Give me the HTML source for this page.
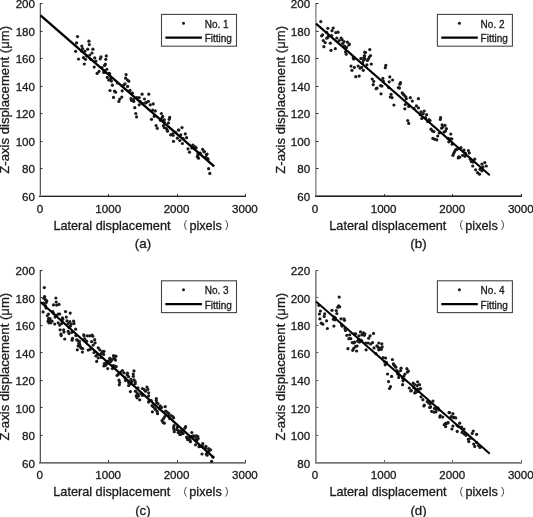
<!DOCTYPE html>
<html><head><meta charset="utf-8"><style>
html,body{margin:0;padding:0;background:#fff;width:533px;height:517px;overflow:hidden}
svg{display:block;will-change:transform;filter:blur(0.3px)}
text{stroke:#1a1a1a;stroke-width:0.3px}
</style></head><body>
<svg width="533" height="517" viewBox="0 0 533 517" font-family="&quot;Liberation Sans&quot;, sans-serif" fill="#1a1a1a"><g stroke-width="0">
<rect width="533" height="517" fill="#fff"/>
<g><rect x="39" y="3" width="1" height="194" fill="#d0d0d0"/><rect x="40" y="3" width="1" height="194" fill="#585858"/><rect x="39" y="195" width="207" height="1" fill="#b0b0b0"/><rect x="39" y="196" width="207" height="1" fill="#222"/><text x="39.90" y="212.60" text-anchor="middle" font-size="11.6">0</text><rect x="108" y="194" width="1" height="2" fill="#333"/><text x="108.23" y="212.60" text-anchor="middle" font-size="11.6">1000</text><rect x="177" y="194" width="1" height="2" fill="#333"/><text x="176.57" y="212.60" text-anchor="middle" font-size="11.6">2000</text><rect x="245" y="194" width="1" height="2" fill="#333"/><text x="244.90" y="212.60" text-anchor="middle" font-size="11.6">3000</text><text x="35.00" y="201.00" text-anchor="end" font-size="11.6">60</text><rect x="40" y="168" width="2.5" height="1" fill="#333"/><text x="35.00" y="173.47" text-anchor="end" font-size="11.6">80</text><rect x="40" y="141" width="2.5" height="1" fill="#333"/><text x="35.00" y="145.94" text-anchor="end" font-size="11.6">100</text><rect x="40" y="113" width="2.5" height="1" fill="#333"/><text x="35.00" y="118.41" text-anchor="end" font-size="11.6">120</text><rect x="40" y="86" width="2.5" height="1" fill="#333"/><text x="35.00" y="90.89" text-anchor="end" font-size="11.6">140</text><rect x="40" y="58" width="2.5" height="1" fill="#333"/><text x="35.00" y="63.36" text-anchor="end" font-size="11.6">160</text><rect x="40" y="31" width="2.5" height="1" fill="#333"/><text x="35.00" y="35.83" text-anchor="end" font-size="11.6">180</text><rect x="40" y="3" width="2.5" height="1" fill="#333"/><text x="35.00" y="8.30" text-anchor="end" font-size="11.6">200</text><text x="53.40" y="229.50" font-size="12.7">Lateral displacement</text><text x="189.40" y="229.50" font-size="12.7">pixels</text><path d="M186.50 220.20Q182.70 224.90 186.50 229.90" fill="none" stroke="#333" stroke-width="0.9"/><path d="M225.70 220.20Q229.50 224.90 225.70 229.90" fill="none" stroke="#333" stroke-width="0.9"/><text x="143.00" y="247.80" text-anchor="middle" font-size="13.3">(a)</text><text transform="translate(9.10 99.85) rotate(-90)" x="0" y="0" text-anchor="middle" font-size="13.15">Z-axis displacement (μm)</text><circle cx="77.5" cy="36.6" r="1.6"/><circle cx="76.6" cy="42.9" r="1.6"/><circle cx="88.9" cy="41.2" r="1.6"/><circle cx="89.3" cy="44.6" r="1.6"/><circle cx="81.8" cy="46.1" r="1.6"/><circle cx="75.6" cy="51.3" r="1.6"/><circle cx="82.6" cy="48.7" r="1.6"/><circle cx="81.4" cy="50.9" r="1.6"/><circle cx="85.0" cy="51.1" r="1.6"/><circle cx="87.7" cy="49.2" r="1.6"/><circle cx="92.9" cy="49.2" r="1.6"/><circle cx="92.0" cy="53.0" r="1.6"/><circle cx="89.8" cy="55.0" r="1.6"/><circle cx="86.6" cy="55.8" r="1.6"/><circle cx="83.5" cy="57.7" r="1.6"/><circle cx="85.5" cy="59.3" r="1.6"/><circle cx="78.5" cy="59.0" r="1.6"/><circle cx="90.8" cy="59.3" r="1.6"/><circle cx="94.7" cy="57.9" r="1.6"/><circle cx="95.9" cy="61.0" r="1.6"/><circle cx="84.3" cy="64.0" r="1.6"/><circle cx="94.2" cy="67.1" r="1.6"/><circle cx="101.0" cy="56.9" r="1.6"/><circle cx="100.2" cy="58.8" r="1.6"/><circle cx="106.3" cy="55.9" r="1.6"/><circle cx="105.8" cy="59.3" r="1.6"/><circle cx="105.3" cy="64.2" r="1.6"/><circle cx="104.6" cy="65.4" r="1.6"/><circle cx="101.9" cy="67.6" r="1.6"/><circle cx="106.8" cy="69.3" r="1.6"/><circle cx="103.8" cy="70.5" r="1.6"/><circle cx="99.0" cy="71.4" r="1.6"/><circle cx="97.1" cy="73.4" r="1.6"/><circle cx="109.2" cy="73.4" r="1.6"/><circle cx="104.3" cy="72.4" r="1.6"/><circle cx="126.1" cy="74.6" r="1.6"/><circle cx="125.6" cy="78.2" r="1.6"/><circle cx="127.5" cy="80.0" r="1.6"/><circle cx="128.8" cy="81.2" r="1.6"/><circle cx="107.3" cy="77.4" r="1.6"/><circle cx="108.7" cy="80.1" r="1.6"/><circle cx="110.6" cy="78.7" r="1.6"/><circle cx="111.4" cy="81.1" r="1.6"/><circle cx="109.7" cy="73.9" r="1.6"/><circle cx="112.4" cy="85.2" r="1.6"/><circle cx="110.0" cy="90.5" r="1.6"/><circle cx="114.5" cy="91.0" r="1.6"/><circle cx="115.5" cy="92.2" r="1.6"/><circle cx="113.5" cy="97.4" r="1.6"/><circle cx="121.8" cy="97.1" r="1.6"/><circle cx="119.8" cy="99.0" r="1.6"/><circle cx="118.9" cy="101.4" r="1.6"/><circle cx="122.2" cy="90.8" r="1.6"/><circle cx="123.7" cy="85.0" r="1.6"/><circle cx="125.0" cy="83.8" r="1.6"/><circle cx="127.6" cy="86.4" r="1.6"/><circle cx="117.4" cy="83.0" r="1.6"/><circle cx="130.0" cy="90.3" r="1.6"/><circle cx="132.4" cy="93.2" r="1.6"/><circle cx="131.0" cy="98.5" r="1.6"/><circle cx="133.4" cy="99.5" r="1.6"/><circle cx="133.8" cy="101.4" r="1.6"/><circle cx="136.8" cy="97.6" r="1.6"/><circle cx="139.2" cy="97.6" r="1.6"/><circle cx="142.1" cy="94.2" r="1.6"/><circle cx="144.5" cy="99.0" r="1.6"/><circle cx="148.8" cy="94.2" r="1.6"/><circle cx="140.1" cy="101.4" r="1.6"/><circle cx="142.6" cy="103.4" r="1.6"/><circle cx="146.4" cy="102.4" r="1.6"/><circle cx="148.4" cy="101.4" r="1.6"/><circle cx="103.9" cy="72.4" r="1.6"/><circle cx="131.5" cy="100.5" r="1.6"/><circle cx="139.2" cy="104.8" r="1.6"/><circle cx="134.8" cy="107.7" r="1.6"/><circle cx="135.8" cy="113.5" r="1.6"/><circle cx="136.6" cy="116.9" r="1.6"/><circle cx="145.5" cy="102.9" r="1.6"/><circle cx="150.3" cy="104.8" r="1.6"/><circle cx="153.2" cy="103.9" r="1.6"/><circle cx="152.7" cy="110.1" r="1.6"/><circle cx="155.3" cy="110.9" r="1.6"/><circle cx="154.2" cy="116.4" r="1.6"/><circle cx="151.5" cy="119.3" r="1.6"/><circle cx="161.4" cy="113.5" r="1.6"/><circle cx="162.7" cy="116.4" r="1.6"/><circle cx="160.5" cy="120.3" r="1.6"/><circle cx="164.3" cy="119.8" r="1.6"/><circle cx="169.7" cy="117.4" r="1.6"/><circle cx="169.2" cy="119.3" r="1.6"/><circle cx="168.5" cy="122.9" r="1.6"/><circle cx="156.1" cy="125.6" r="1.6"/><circle cx="157.3" cy="128.3" r="1.6"/><circle cx="163.4" cy="125.6" r="1.6"/><circle cx="164.3" cy="127.6" r="1.6"/><circle cx="166.8" cy="129.0" r="1.6"/><circle cx="167.7" cy="130.9" r="1.6"/><circle cx="178.4" cy="130.0" r="1.6"/><circle cx="175.5" cy="132.4" r="1.6"/><circle cx="172.6" cy="133.8" r="1.6"/><circle cx="161.9" cy="117.9" r="1.6"/><circle cx="161.0" cy="120.3" r="1.6"/><circle cx="164.4" cy="122.7" r="1.6"/><circle cx="166.3" cy="128.5" r="1.6"/><circle cx="167.3" cy="131.0" r="1.6"/><circle cx="182.0" cy="127.6" r="1.6"/><circle cx="178.9" cy="130.0" r="1.6"/><circle cx="170.6" cy="134.8" r="1.6"/><circle cx="173.1" cy="135.3" r="1.6"/><circle cx="180.8" cy="134.8" r="1.6"/><circle cx="185.3" cy="133.9" r="1.6"/><circle cx="186.6" cy="137.7" r="1.6"/><circle cx="177.4" cy="138.2" r="1.6"/><circle cx="179.8" cy="140.6" r="1.6"/><circle cx="183.2" cy="138.7" r="1.6"/><circle cx="182.4" cy="143.5" r="1.6"/><circle cx="173.5" cy="141.3" r="1.6"/><circle cx="192.9" cy="145.0" r="1.6"/><circle cx="195.3" cy="147.4" r="1.6"/><circle cx="191.9" cy="147.9" r="1.6"/><circle cx="188.0" cy="148.8" r="1.6"/><circle cx="189.5" cy="152.2" r="1.6"/><circle cx="202.6" cy="149.3" r="1.6"/><circle cx="204.0" cy="151.8" r="1.6"/><circle cx="198.2" cy="153.2" r="1.6"/><circle cx="200.6" cy="154.2" r="1.6"/><circle cx="206.4" cy="154.7" r="1.6"/><circle cx="197.7" cy="157.1" r="1.6"/><circle cx="205.5" cy="157.6" r="1.6"/><circle cx="207.9" cy="159.5" r="1.6"/><circle cx="194.7" cy="146.6" r="1.6"/><circle cx="196.2" cy="147.8" r="1.6"/><circle cx="204.3" cy="151.6" r="1.6"/><circle cx="207.1" cy="154.0" r="1.6"/><circle cx="200.1" cy="153.2" r="1.6"/><circle cx="198.2" cy="154.3" r="1.6"/><circle cx="197.4" cy="156.3" r="1.6"/><circle cx="198.5" cy="158.2" r="1.6"/><circle cx="205.9" cy="157.4" r="1.6"/><circle cx="207.8" cy="158.6" r="1.6"/><circle cx="208.6" cy="168.7" r="1.6"/><circle cx="209.8" cy="173.4" r="1.6"/><path d="M40.50 15.40L214.20 166.30" stroke="#000" stroke-width="2.4"/><rect x="161.50" y="14.40" width="75" height="31.8" fill="#fff" stroke="#444" stroke-width="1.1"/><circle cx="183.50" cy="23.30" r="1.5"/><path d="M165.40 37.70H201.90" stroke="#000" stroke-width="2.2"/><text x="204.70" y="27.60" font-size="10">No. 1</text><text x="204.70" y="42.30" font-size="10">Fitting</text></g>
<g><rect x="315" y="3" width="1" height="194" fill="#999"/><rect x="316" y="3" width="1" height="194" fill="#bbb"/><rect x="315" y="195" width="207" height="1" fill="#777"/><rect x="315" y="196" width="207" height="1" fill="#222"/><text x="315.00" y="212.60" text-anchor="middle" font-size="11.6">0</text><rect x="384" y="194" width="1" height="2" fill="#333"/><text x="383.60" y="212.60" text-anchor="middle" font-size="11.6">1000</text><rect x="452" y="194" width="1" height="2" fill="#333"/><text x="452.20" y="212.60" text-anchor="middle" font-size="11.6">2000</text><rect x="521" y="194" width="1" height="2" fill="#333"/><text x="520.80" y="212.60" text-anchor="middle" font-size="11.6">3000</text><text x="310.10" y="201.00" text-anchor="end" font-size="11.6">60</text><rect x="316" y="168" width="2.5" height="1" fill="#333"/><text x="310.10" y="173.47" text-anchor="end" font-size="11.6">80</text><rect x="316" y="141" width="2.5" height="1" fill="#333"/><text x="310.10" y="145.94" text-anchor="end" font-size="11.6">100</text><rect x="316" y="113" width="2.5" height="1" fill="#333"/><text x="310.10" y="118.41" text-anchor="end" font-size="11.6">120</text><rect x="316" y="86" width="2.5" height="1" fill="#333"/><text x="310.10" y="90.89" text-anchor="end" font-size="11.6">140</text><rect x="316" y="58" width="2.5" height="1" fill="#333"/><text x="310.10" y="63.36" text-anchor="end" font-size="11.6">160</text><rect x="316" y="31" width="2.5" height="1" fill="#333"/><text x="310.10" y="35.83" text-anchor="end" font-size="11.6">180</text><rect x="316" y="3" width="2.5" height="1" fill="#333"/><text x="310.10" y="8.30" text-anchor="end" font-size="11.6">200</text><text x="329.30" y="229.50" font-size="12.7">Lateral displacement</text><text x="465.30" y="229.50" font-size="12.7">pixels</text><path d="M462.40 220.20Q458.60 224.90 462.40 229.90" fill="none" stroke="#333" stroke-width="0.9"/><path d="M501.60 220.20Q505.40 224.90 501.60 229.90" fill="none" stroke="#333" stroke-width="0.9"/><text x="418.50" y="247.80" text-anchor="middle" font-size="13.3">(b)</text><text transform="translate(284.70 99.85) rotate(-90)" x="0" y="0" text-anchor="middle" font-size="13.15">Z-axis displacement (μm)</text><circle cx="320.8" cy="21.6" r="1.6"/><circle cx="327.8" cy="28.3" r="1.6"/><circle cx="333.2" cy="28.1" r="1.6"/><circle cx="332.0" cy="30.7" r="1.6"/><circle cx="335.8" cy="32.6" r="1.6"/><circle cx="338.0" cy="32.2" r="1.6"/><circle cx="326.6" cy="32.4" r="1.6"/><circle cx="322.6" cy="34.8" r="1.6"/><circle cx="321.6" cy="35.8" r="1.6"/><circle cx="328.6" cy="35.8" r="1.6"/><circle cx="331.7" cy="35.5" r="1.6"/><circle cx="326.8" cy="38.2" r="1.6"/><circle cx="327.8" cy="37.4" r="1.6"/><circle cx="336.8" cy="38.0" r="1.6"/><circle cx="341.1" cy="38.0" r="1.6"/><circle cx="342.1" cy="39.7" r="1.6"/><circle cx="339.2" cy="40.6" r="1.6"/><circle cx="323.3" cy="40.6" r="1.6"/><circle cx="325.2" cy="42.6" r="1.6"/><circle cx="330.3" cy="43.2" r="1.6"/><circle cx="323.9" cy="46.7" r="1.6"/><circle cx="344.0" cy="41.6" r="1.6"/><circle cx="347.4" cy="42.1" r="1.6"/><circle cx="349.4" cy="44.0" r="1.6"/><circle cx="348.9" cy="45.0" r="1.6"/><circle cx="344.5" cy="46.0" r="1.6"/><circle cx="346.5" cy="47.4" r="1.6"/><circle cx="342.6" cy="43.5" r="1.6"/><circle cx="335.3" cy="48.7" r="1.6"/><circle cx="331.0" cy="50.3" r="1.6"/><circle cx="345.5" cy="51.8" r="1.6"/><circle cx="346.2" cy="54.2" r="1.6"/><circle cx="353.2" cy="57.6" r="1.6"/><circle cx="353.7" cy="58.7" r="1.6"/><circle cx="361.0" cy="58.5" r="1.6"/><circle cx="364.4" cy="56.1" r="1.6"/><circle cx="364.8" cy="52.2" r="1.6"/><circle cx="363.4" cy="60.5" r="1.6"/><circle cx="369.8" cy="49.6" r="1.6"/><circle cx="365.5" cy="52.5" r="1.6"/><circle cx="364.5" cy="55.6" r="1.6"/><circle cx="364.0" cy="57.6" r="1.6"/><circle cx="365.0" cy="59.0" r="1.6"/><circle cx="370.5" cy="55.6" r="1.6"/><circle cx="369.3" cy="57.1" r="1.6"/><circle cx="368.4" cy="59.0" r="1.6"/><circle cx="367.4" cy="60.5" r="1.6"/><circle cx="361.1" cy="58.5" r="1.6"/><circle cx="353.9" cy="59.0" r="1.6"/><circle cx="362.6" cy="62.9" r="1.6"/><circle cx="366.9" cy="64.8" r="1.6"/><circle cx="371.3" cy="64.1" r="1.6"/><circle cx="351.0" cy="66.1" r="1.6"/><circle cx="354.4" cy="67.4" r="1.6"/><circle cx="352.0" cy="70.3" r="1.6"/><circle cx="358.2" cy="66.1" r="1.6"/><circle cx="360.2" cy="68.2" r="1.6"/><circle cx="361.6" cy="67.4" r="1.6"/><circle cx="363.3" cy="70.3" r="1.6"/><circle cx="355.8" cy="76.7" r="1.6"/><circle cx="359.2" cy="76.1" r="1.6"/><circle cx="385.8" cy="65.3" r="1.6"/><circle cx="385.3" cy="67.7" r="1.6"/><circle cx="372.2" cy="79.0" r="1.6"/><circle cx="373.7" cy="81.3" r="1.6"/><circle cx="373.2" cy="84.7" r="1.6"/><circle cx="382.9" cy="78.4" r="1.6"/><circle cx="383.4" cy="81.3" r="1.6"/><circle cx="380.5" cy="85.6" r="1.6"/><circle cx="381.9" cy="86.1" r="1.6"/><circle cx="376.1" cy="88.7" r="1.6"/><circle cx="377.1" cy="88.0" r="1.6"/><circle cx="389.8" cy="76.9" r="1.6"/><circle cx="392.6" cy="80.0" r="1.6"/><circle cx="389.2" cy="81.8" r="1.6"/><circle cx="388.7" cy="87.6" r="1.6"/><circle cx="398.4" cy="87.6" r="1.6"/><circle cx="399.8" cy="84.2" r="1.6"/><circle cx="381.0" cy="93.8" r="1.6"/><circle cx="391.1" cy="94.3" r="1.6"/><circle cx="400.5" cy="82.7" r="1.6"/><circle cx="399.5" cy="88.1" r="1.6"/><circle cx="390.3" cy="97.0" r="1.6"/><circle cx="392.0" cy="97.7" r="1.6"/><circle cx="402.2" cy="92.9" r="1.6"/><circle cx="403.4" cy="94.3" r="1.6"/><circle cx="404.3" cy="95.3" r="1.6"/><circle cx="405.8" cy="96.8" r="1.6"/><circle cx="406.3" cy="98.7" r="1.6"/><circle cx="410.3" cy="97.7" r="1.6"/><circle cx="412.3" cy="101.1" r="1.6"/><circle cx="418.4" cy="98.7" r="1.6"/><circle cx="393.9" cy="105.0" r="1.6"/><circle cx="405.3" cy="104.5" r="1.6"/><circle cx="408.7" cy="106.4" r="1.6"/><circle cx="404.8" cy="108.8" r="1.6"/><circle cx="416.4" cy="105.9" r="1.6"/><circle cx="418.4" cy="107.9" r="1.6"/><circle cx="414.0" cy="108.4" r="1.6"/><circle cx="421.0" cy="111.8" r="1.6"/><circle cx="424.2" cy="111.0" r="1.6"/><circle cx="423.2" cy="113.7" r="1.6"/><circle cx="426.6" cy="114.7" r="1.6"/><circle cx="420.3" cy="114.7" r="1.6"/><circle cx="421.8" cy="118.5" r="1.6"/><circle cx="425.6" cy="117.6" r="1.6"/><circle cx="429.0" cy="119.5" r="1.6"/><circle cx="430.0" cy="120.5" r="1.6"/><circle cx="427.6" cy="121.4" r="1.6"/><circle cx="407.7" cy="120.5" r="1.6"/><circle cx="408.7" cy="123.4" r="1.6"/><circle cx="440.6" cy="117.6" r="1.6"/><circle cx="440.3" cy="119.5" r="1.6"/><circle cx="442.1" cy="124.8" r="1.6"/><circle cx="445.0" cy="125.3" r="1.6"/><circle cx="441.6" cy="128.2" r="1.6"/><circle cx="443.0" cy="126.8" r="1.6"/><circle cx="446.4" cy="128.7" r="1.6"/><circle cx="445.5" cy="131.1" r="1.6"/><circle cx="444.0" cy="132.1" r="1.6"/><circle cx="431.0" cy="129.2" r="1.6"/><circle cx="432.4" cy="130.9" r="1.6"/><circle cx="433.9" cy="131.6" r="1.6"/><circle cx="439.2" cy="133.0" r="1.6"/><circle cx="437.7" cy="136.0" r="1.6"/><circle cx="432.9" cy="138.4" r="1.6"/><circle cx="434.8" cy="139.3" r="1.6"/><circle cx="436.8" cy="139.8" r="1.6"/><circle cx="450.8" cy="134.0" r="1.6"/><circle cx="447.9" cy="138.4" r="1.6"/><circle cx="449.8" cy="138.8" r="1.6"/><circle cx="451.8" cy="138.8" r="1.6"/><circle cx="448.8" cy="141.8" r="1.6"/><circle cx="452.2" cy="144.2" r="1.6"/><circle cx="456.6" cy="149.5" r="1.6"/><circle cx="454.7" cy="151.4" r="1.6"/><circle cx="453.7" cy="153.4" r="1.6"/><circle cx="460.9" cy="147.6" r="1.6"/><circle cx="463.4" cy="150.9" r="1.6"/><circle cx="457.3" cy="149.0" r="1.6"/><circle cx="455.8" cy="149.5" r="1.6"/><circle cx="452.9" cy="155.3" r="1.6"/><circle cx="464.0" cy="150.0" r="1.6"/><circle cx="468.4" cy="150.5" r="1.6"/><circle cx="469.3" cy="152.9" r="1.6"/><circle cx="465.5" cy="153.4" r="1.6"/><circle cx="462.6" cy="155.3" r="1.6"/><circle cx="465.0" cy="156.3" r="1.6"/><circle cx="458.7" cy="156.8" r="1.6"/><circle cx="458.2" cy="158.0" r="1.6"/><circle cx="459.7" cy="157.2" r="1.6"/><circle cx="470.3" cy="159.2" r="1.6"/><circle cx="474.7" cy="159.2" r="1.6"/><circle cx="471.3" cy="161.6" r="1.6"/><circle cx="473.2" cy="162.1" r="1.6"/><circle cx="472.7" cy="166.0" r="1.6"/><circle cx="481.9" cy="164.0" r="1.6"/><circle cx="484.8" cy="162.6" r="1.6"/><circle cx="486.3" cy="166.0" r="1.6"/><circle cx="482.9" cy="166.9" r="1.6"/><circle cx="475.6" cy="169.8" r="1.6"/><circle cx="480.0" cy="169.3" r="1.6"/><circle cx="481.9" cy="170.8" r="1.6"/><circle cx="477.6" cy="172.7" r="1.6"/><circle cx="479.5" cy="174.2" r="1.6"/><path d="M316.00 23.60L489.80 175.20" stroke="#000" stroke-width="2.1"/><rect x="437.40" y="14.40" width="75" height="31.8" fill="#fff" stroke="#444" stroke-width="1.1"/><circle cx="459.40" cy="23.30" r="1.5"/><path d="M441.30 37.70H477.80" stroke="#000" stroke-width="2.2"/><text x="480.60" y="27.60" font-size="10">No. 2</text><text x="480.60" y="42.30" font-size="10">Fitting</text></g>
<g><rect x="39" y="270" width="1" height="193" fill="#ccc"/><rect x="40" y="270" width="1" height="193" fill="#555"/><rect x="39" y="462" width="207" height="1" fill="#6a6a6a"/><rect x="39" y="463" width="207" height="1" fill="#999"/><text x="39.80" y="479.30" text-anchor="middle" font-size="11.6">0</text><rect x="108" y="460" width="1" height="2" fill="#333"/><text x="108.17" y="479.30" text-anchor="middle" font-size="11.6">1000</text><rect x="177" y="460" width="1" height="2" fill="#333"/><text x="176.53" y="479.30" text-anchor="middle" font-size="11.6">2000</text><rect x="245" y="460" width="1" height="2" fill="#333"/><text x="244.90" y="479.30" text-anchor="middle" font-size="11.6">3000</text><text x="34.90" y="467.70" text-anchor="end" font-size="11.6">60</text><rect x="40" y="435" width="2.5" height="1" fill="#333"/><text x="34.90" y="440.20" text-anchor="end" font-size="11.6">80</text><rect x="40" y="407" width="2.5" height="1" fill="#333"/><text x="34.90" y="412.70" text-anchor="end" font-size="11.6">100</text><rect x="40" y="380" width="2.5" height="1" fill="#333"/><text x="34.90" y="385.20" text-anchor="end" font-size="11.6">120</text><rect x="40" y="352" width="2.5" height="1" fill="#333"/><text x="34.90" y="357.70" text-anchor="end" font-size="11.6">140</text><rect x="40" y="325" width="2.5" height="1" fill="#333"/><text x="34.90" y="330.20" text-anchor="end" font-size="11.6">160</text><rect x="40" y="297" width="2.5" height="1" fill="#333"/><text x="34.90" y="302.70" text-anchor="end" font-size="11.6">180</text><rect x="40" y="270" width="2.5" height="1" fill="#333"/><text x="34.90" y="275.20" text-anchor="end" font-size="11.6">200</text><text x="53.30" y="496.20" font-size="12.7">Lateral displacement</text><text x="189.30" y="496.20" font-size="12.7">pixels</text><path d="M186.40 486.90Q182.60 491.60 186.40 496.60" fill="none" stroke="#333" stroke-width="0.9"/><path d="M225.60 486.90Q229.40 491.60 225.60 496.60" fill="none" stroke="#333" stroke-width="0.9"/><text x="142.95" y="514.50" text-anchor="middle" font-size="13.3">(c)</text><text transform="translate(9.00 366.65) rotate(-90)" x="0" y="0" text-anchor="middle" font-size="13.15">Z-axis displacement (μm)</text><circle cx="44.3" cy="287.6" r="1.6"/><circle cx="44.6" cy="296.6" r="1.6"/><circle cx="43.9" cy="298.2" r="1.6"/><circle cx="45.4" cy="299.7" r="1.6"/><circle cx="46.8" cy="300.9" r="1.6"/><circle cx="46.2" cy="302.4" r="1.6"/><circle cx="43.5" cy="303.2" r="1.6"/><circle cx="45.4" cy="305.5" r="1.6"/><circle cx="46.0" cy="307.9" r="1.6"/><circle cx="55.9" cy="298.0" r="1.6"/><circle cx="56.2" cy="302.0" r="1.6"/><circle cx="53.5" cy="304.9" r="1.6"/><circle cx="56.6" cy="305.1" r="1.6"/><circle cx="59.0" cy="304.4" r="1.6"/><circle cx="43.1" cy="311.9" r="1.6"/><circle cx="48.5" cy="314.0" r="1.6"/><circle cx="47.4" cy="315.6" r="1.6"/><circle cx="52.8" cy="311.7" r="1.6"/><circle cx="53.5" cy="313.3" r="1.6"/><circle cx="48.5" cy="318.7" r="1.6"/><circle cx="50.1" cy="318.7" r="1.6"/><circle cx="58.2" cy="314.0" r="1.6"/><circle cx="59.7" cy="314.0" r="1.6"/><circle cx="56.6" cy="315.6" r="1.6"/><circle cx="55.1" cy="317.1" r="1.6"/><circle cx="65.5" cy="311.6" r="1.6"/><circle cx="70.2" cy="313.1" r="1.6"/><circle cx="66.3" cy="317.1" r="1.6"/><circle cx="62.4" cy="317.9" r="1.6"/><circle cx="48.1" cy="321.2" r="1.6"/><circle cx="50.0" cy="321.2" r="1.6"/><circle cx="52.0" cy="321.2" r="1.6"/><circle cx="48.9" cy="322.8" r="1.6"/><circle cx="50.8" cy="322.8" r="1.6"/><circle cx="54.7" cy="324.0" r="1.6"/><circle cx="58.2" cy="322.8" r="1.6"/><circle cx="59.7" cy="325.1" r="1.6"/><circle cx="61.6" cy="323.6" r="1.6"/><circle cx="62.8" cy="319.3" r="1.6"/><circle cx="67.0" cy="320.9" r="1.6"/><circle cx="69.8" cy="321.6" r="1.6"/><circle cx="73.6" cy="321.2" r="1.6"/><circle cx="74.0" cy="323.6" r="1.6"/><circle cx="68.2" cy="323.6" r="1.6"/><circle cx="71.3" cy="324.0" r="1.6"/><circle cx="70.5" cy="325.9" r="1.6"/><circle cx="69.0" cy="327.4" r="1.6"/><circle cx="60.1" cy="329.8" r="1.6"/><circle cx="63.6" cy="329.8" r="1.6"/><circle cx="64.0" cy="332.1" r="1.6"/><circle cx="60.9" cy="334.0" r="1.6"/><circle cx="61.2" cy="335.6" r="1.6"/><circle cx="68.2" cy="331.3" r="1.6"/><circle cx="69.0" cy="333.6" r="1.6"/><circle cx="71.7" cy="332.5" r="1.6"/><circle cx="75.6" cy="329.2" r="1.6"/><circle cx="75.9" cy="335.6" r="1.6"/><circle cx="72.5" cy="338.3" r="1.6"/><circle cx="72.1" cy="340.2" r="1.6"/><circle cx="64.7" cy="339.0" r="1.6"/><circle cx="76.7" cy="339.8" r="1.6"/><circle cx="79.4" cy="341.4" r="1.6"/><circle cx="79.0" cy="343.7" r="1.6"/><circle cx="83.8" cy="334.8" r="1.6"/><circle cx="84.1" cy="336.0" r="1.6"/><circle cx="87.4" cy="335.8" r="1.6"/><circle cx="89.7" cy="335.8" r="1.6"/><circle cx="92.0" cy="335.1" r="1.6"/><circle cx="92.8" cy="336.2" r="1.6"/><circle cx="77.3" cy="340.1" r="1.6"/><circle cx="84.7" cy="338.9" r="1.6"/><circle cx="86.6" cy="341.2" r="1.6"/><circle cx="94.7" cy="339.7" r="1.6"/><circle cx="91.6" cy="341.6" r="1.6"/><circle cx="95.1" cy="342.8" r="1.6"/><circle cx="93.2" cy="345.1" r="1.6"/><circle cx="78.9" cy="342.8" r="1.6"/><circle cx="79.6" cy="344.3" r="1.6"/><circle cx="78.1" cy="345.9" r="1.6"/><circle cx="80.4" cy="346.7" r="1.6"/><circle cx="81.2" cy="348.2" r="1.6"/><circle cx="82.7" cy="348.6" r="1.6"/><circle cx="77.3" cy="349.8" r="1.6"/><circle cx="82.4" cy="352.1" r="1.6"/><circle cx="88.2" cy="350.1" r="1.6"/><circle cx="90.1" cy="349.4" r="1.6"/><circle cx="94.0" cy="352.5" r="1.6"/><circle cx="98.2" cy="347.8" r="1.6"/><circle cx="99.8" cy="349.8" r="1.6"/><circle cx="104.0" cy="351.3" r="1.6"/><circle cx="102.1" cy="353.2" r="1.6"/><circle cx="103.6" cy="354.4" r="1.6"/><circle cx="97.1" cy="354.8" r="1.6"/><circle cx="95.9" cy="356.0" r="1.6"/><circle cx="98.2" cy="357.9" r="1.6"/><circle cx="96.7" cy="361.4" r="1.6"/><circle cx="101.3" cy="357.5" r="1.6"/><circle cx="109.8" cy="358.3" r="1.6"/><circle cx="111.4" cy="360.2" r="1.6"/><circle cx="113.7" cy="355.9" r="1.6"/><circle cx="112.9" cy="359.0" r="1.6"/><circle cx="107.5" cy="361.4" r="1.6"/><circle cx="106.0" cy="362.9" r="1.6"/><circle cx="104.4" cy="363.7" r="1.6"/><circle cx="102.3" cy="351.5" r="1.6"/><circle cx="101.2" cy="353.5" r="1.6"/><circle cx="113.5" cy="355.8" r="1.6"/><circle cx="115.9" cy="356.2" r="1.6"/><circle cx="114.7" cy="358.1" r="1.6"/><circle cx="115.5" cy="360.1" r="1.6"/><circle cx="110.1" cy="358.9" r="1.6"/><circle cx="108.5" cy="361.2" r="1.6"/><circle cx="110.8" cy="361.6" r="1.6"/><circle cx="105.0" cy="363.5" r="1.6"/><circle cx="107.0" cy="363.9" r="1.6"/><circle cx="103.9" cy="365.9" r="1.6"/><circle cx="105.4" cy="365.5" r="1.6"/><circle cx="107.7" cy="368.6" r="1.6"/><circle cx="113.2" cy="365.5" r="1.6"/><circle cx="114.7" cy="366.2" r="1.6"/><circle cx="116.2" cy="366.6" r="1.6"/><circle cx="112.4" cy="368.6" r="1.6"/><circle cx="122.4" cy="370.5" r="1.6"/><circle cx="120.9" cy="372.0" r="1.6"/><circle cx="124.0" cy="372.8" r="1.6"/><circle cx="117.0" cy="375.5" r="1.6"/><circle cx="118.2" cy="374.4" r="1.6"/><circle cx="127.5" cy="373.2" r="1.6"/><circle cx="127.1" cy="374.8" r="1.6"/><circle cx="128.6" cy="376.7" r="1.6"/><circle cx="125.1" cy="377.9" r="1.6"/><circle cx="125.5" cy="380.6" r="1.6"/><circle cx="119.0" cy="380.2" r="1.6"/><circle cx="119.7" cy="382.5" r="1.6"/><circle cx="119.3" cy="384.8" r="1.6"/><circle cx="134.0" cy="370.9" r="1.6"/><circle cx="133.3" cy="374.0" r="1.6"/><circle cx="133.3" cy="376.3" r="1.6"/><circle cx="130.9" cy="379.4" r="1.6"/><circle cx="131.7" cy="381.7" r="1.6"/><circle cx="134.0" cy="379.8" r="1.6"/><circle cx="135.2" cy="381.7" r="1.6"/><circle cx="128.6" cy="382.5" r="1.6"/><circle cx="130.2" cy="384.0" r="1.6"/><circle cx="128.6" cy="385.6" r="1.6"/><circle cx="135.2" cy="383.7" r="1.6"/><circle cx="137.9" cy="387.9" r="1.6"/><circle cx="130.4" cy="391.6" r="1.6"/><circle cx="142.4" cy="388.5" r="1.6"/><circle cx="144.3" cy="389.7" r="1.6"/><circle cx="147.0" cy="387.0" r="1.6"/><circle cx="147.8" cy="389.3" r="1.6"/><circle cx="148.6" cy="392.8" r="1.6"/><circle cx="145.5" cy="391.2" r="1.6"/><circle cx="135.4" cy="391.2" r="1.6"/><circle cx="137.0" cy="392.8" r="1.6"/><circle cx="137.7" cy="394.3" r="1.6"/><circle cx="136.2" cy="395.9" r="1.6"/><circle cx="138.5" cy="395.9" r="1.6"/><circle cx="137.0" cy="397.8" r="1.6"/><circle cx="139.7" cy="399.8" r="1.6"/><circle cx="140.8" cy="393.6" r="1.6"/><circle cx="142.4" cy="395.5" r="1.6"/><circle cx="148.6" cy="395.9" r="1.6"/><circle cx="149.3" cy="400.5" r="1.6"/><circle cx="148.6" cy="402.1" r="1.6"/><circle cx="151.3" cy="400.5" r="1.6"/><circle cx="156.3" cy="398.6" r="1.6"/><circle cx="156.3" cy="400.5" r="1.6"/><circle cx="156.7" cy="402.5" r="1.6"/><circle cx="157.9" cy="403.6" r="1.6"/><circle cx="152.0" cy="405.6" r="1.6"/><circle cx="153.2" cy="406.7" r="1.6"/><circle cx="154.8" cy="408.3" r="1.6"/><circle cx="155.5" cy="409.4" r="1.6"/><circle cx="160.2" cy="405.9" r="1.6"/><circle cx="161.7" cy="407.5" r="1.6"/><circle cx="165.2" cy="406.6" r="1.6"/><circle cx="159.4" cy="408.7" r="1.6"/><circle cx="152.4" cy="411.8" r="1.6"/><circle cx="157.1" cy="411.4" r="1.6"/><circle cx="157.5" cy="413.7" r="1.6"/><circle cx="165.6" cy="411.0" r="1.6"/><circle cx="167.1" cy="412.1" r="1.6"/><circle cx="168.7" cy="413.3" r="1.6"/><circle cx="164.7" cy="416.6" r="1.6"/><circle cx="163.5" cy="418.6" r="1.6"/><circle cx="162.0" cy="420.5" r="1.6"/><circle cx="163.1" cy="422.4" r="1.6"/><circle cx="164.3" cy="423.2" r="1.6"/><circle cx="168.9" cy="415.5" r="1.6"/><circle cx="171.2" cy="415.5" r="1.6"/><circle cx="172.8" cy="416.6" r="1.6"/><circle cx="173.6" cy="417.8" r="1.6"/><circle cx="169.7" cy="418.6" r="1.6"/><circle cx="174.0" cy="425.5" r="1.6"/><circle cx="173.6" cy="427.5" r="1.6"/><circle cx="174.0" cy="429.4" r="1.6"/><circle cx="174.3" cy="431.7" r="1.6"/><circle cx="177.4" cy="427.1" r="1.6"/><circle cx="176.7" cy="429.4" r="1.6"/><circle cx="178.2" cy="430.6" r="1.6"/><circle cx="179.8" cy="431.7" r="1.6"/><circle cx="178.2" cy="432.5" r="1.6"/><circle cx="180.5" cy="433.3" r="1.6"/><circle cx="182.1" cy="432.5" r="1.6"/><circle cx="179.8" cy="434.4" r="1.6"/><circle cx="185.6" cy="426.7" r="1.6"/><circle cx="184.8" cy="428.2" r="1.6"/><circle cx="191.8" cy="432.5" r="1.6"/><circle cx="186.7" cy="437.1" r="1.6"/><circle cx="189.0" cy="437.9" r="1.6"/><circle cx="191.4" cy="436.4" r="1.6"/><circle cx="193.7" cy="436.4" r="1.6"/><circle cx="180.8" cy="430.8" r="1.6"/><circle cx="181.9" cy="433.2" r="1.6"/><circle cx="180.8" cy="434.3" r="1.6"/><circle cx="183.1" cy="433.5" r="1.6"/><circle cx="187.0" cy="437.8" r="1.6"/><circle cx="188.5" cy="439.0" r="1.6"/><circle cx="190.1" cy="440.1" r="1.6"/><circle cx="190.4" cy="441.7" r="1.6"/><circle cx="187.7" cy="439.7" r="1.6"/><circle cx="193.2" cy="435.9" r="1.6"/><circle cx="195.1" cy="436.2" r="1.6"/><circle cx="196.6" cy="435.9" r="1.6"/><circle cx="197.8" cy="436.6" r="1.6"/><circle cx="198.2" cy="438.6" r="1.6"/><circle cx="196.2" cy="439.0" r="1.6"/><circle cx="197.0" cy="440.1" r="1.6"/><circle cx="195.5" cy="444.8" r="1.6"/><circle cx="199.0" cy="446.7" r="1.6"/><circle cx="200.9" cy="446.3" r="1.6"/><circle cx="202.8" cy="443.6" r="1.6"/><circle cx="202.4" cy="445.5" r="1.6"/><circle cx="205.9" cy="446.3" r="1.6"/><circle cx="205.5" cy="448.2" r="1.6"/><circle cx="208.6" cy="448.6" r="1.6"/><circle cx="210.6" cy="449.8" r="1.6"/><circle cx="209.0" cy="451.0" r="1.6"/><circle cx="207.5" cy="452.5" r="1.6"/><circle cx="206.3" cy="454.0" r="1.6"/><circle cx="207.1" cy="455.2" r="1.6"/><circle cx="202.0" cy="454.0" r="1.6"/><circle cx="212.9" cy="457.1" r="1.6"/><circle cx="211.6" cy="461.3" r="1.6"/><path d="M40.50 302.00L214.10 457.90" stroke="#000" stroke-width="2.2"/><rect x="161.50" y="280.80" width="75" height="31.8" fill="#fff" stroke="#444" stroke-width="1.1"/><circle cx="183.50" cy="289.70" r="1.5"/><path d="M165.40 304.10H201.90" stroke="#000" stroke-width="2.2"/><text x="204.70" y="294.00" font-size="10">No. 3</text><text x="204.70" y="308.70" font-size="10">Fitting</text></g>
<g><rect x="315" y="270" width="1" height="193" fill="#888"/><rect x="316" y="270" width="1" height="193" fill="#aaa"/><rect x="315" y="462" width="207" height="1" fill="#777"/><rect x="315" y="463" width="207" height="1" fill="#999"/><text x="315.10" y="479.30" text-anchor="middle" font-size="11.6">0</text><rect x="384" y="460" width="1" height="2" fill="#666"/><text x="383.67" y="479.30" text-anchor="middle" font-size="11.6">1000</text><rect x="452" y="460" width="1" height="2" fill="#666"/><text x="452.23" y="479.30" text-anchor="middle" font-size="11.6">2000</text><rect x="521" y="460" width="1" height="2" fill="#666"/><text x="520.80" y="479.30" text-anchor="middle" font-size="11.6">3000</text><text x="310.20" y="467.70" text-anchor="end" font-size="11.6">80</text><rect x="316" y="435" width="2.5" height="1" fill="#666"/><text x="310.20" y="440.20" text-anchor="end" font-size="11.6">100</text><rect x="316" y="407" width="2.5" height="1" fill="#666"/><text x="310.20" y="412.70" text-anchor="end" font-size="11.6">120</text><rect x="316" y="380" width="2.5" height="1" fill="#666"/><text x="310.20" y="385.20" text-anchor="end" font-size="11.6">140</text><rect x="316" y="352" width="2.5" height="1" fill="#666"/><text x="310.20" y="357.70" text-anchor="end" font-size="11.6">160</text><rect x="316" y="325" width="2.5" height="1" fill="#666"/><text x="310.20" y="330.20" text-anchor="end" font-size="11.6">180</text><rect x="316" y="297" width="2.5" height="1" fill="#666"/><text x="310.20" y="302.70" text-anchor="end" font-size="11.6">200</text><rect x="316" y="270" width="2.5" height="1" fill="#666"/><text x="310.20" y="275.20" text-anchor="end" font-size="11.6">220</text><text x="329.40" y="496.20" font-size="12.7">Lateral displacement</text><text x="465.40" y="496.20" font-size="12.7">pixels</text><path d="M462.50 486.90Q458.70 491.60 462.50 496.60" fill="none" stroke="#333" stroke-width="0.9"/><path d="M501.70 486.90Q505.50 491.60 501.70 496.60" fill="none" stroke="#333" stroke-width="0.9"/><text x="418.55" y="514.50" text-anchor="middle" font-size="13.3">(d)</text><text transform="translate(284.80 366.65) rotate(-90)" x="0" y="0" text-anchor="middle" font-size="13.15">Z-axis displacement (μm)</text><circle cx="339.2" cy="297.1" r="1.6"/><circle cx="338.7" cy="305.8" r="1.6"/><circle cx="339.7" cy="306.8" r="1.6"/><circle cx="337.8" cy="307.2" r="1.6"/><circle cx="336.3" cy="310.6" r="1.6"/><circle cx="336.8" cy="313.5" r="1.6"/><circle cx="332.0" cy="310.3" r="1.6"/><circle cx="318.9" cy="305.3" r="1.6"/><circle cx="320.4" cy="311.1" r="1.6"/><circle cx="319.4" cy="314.0" r="1.6"/><circle cx="324.7" cy="313.8" r="1.6"/><circle cx="324.2" cy="316.4" r="1.6"/><circle cx="319.9" cy="318.8" r="1.6"/><circle cx="326.6" cy="320.8" r="1.6"/><circle cx="321.3" cy="323.2" r="1.6"/><circle cx="322.8" cy="324.2" r="1.6"/><circle cx="333.9" cy="316.9" r="1.6"/><circle cx="335.3" cy="317.9" r="1.6"/><circle cx="333.4" cy="319.3" r="1.6"/><circle cx="334.9" cy="319.8" r="1.6"/><circle cx="341.0" cy="318.8" r="1.6"/><circle cx="344.0" cy="318.8" r="1.6"/><circle cx="344.5" cy="320.3" r="1.6"/><circle cx="333.9" cy="326.1" r="1.6"/><circle cx="327.4" cy="328.5" r="1.6"/><circle cx="341.6" cy="324.7" r="1.6"/><circle cx="342.1" cy="326.1" r="1.6"/><circle cx="345.0" cy="328.5" r="1.6"/><circle cx="345.5" cy="330.5" r="1.6"/><circle cx="354.2" cy="333.8" r="1.6"/><circle cx="355.7" cy="333.8" r="1.6"/><circle cx="360.5" cy="331.9" r="1.6"/><circle cx="363.4" cy="332.9" r="1.6"/><circle cx="364.8" cy="333.8" r="1.6"/><circle cx="346.9" cy="335.3" r="1.6"/><circle cx="349.8" cy="334.8" r="1.6"/><circle cx="348.9" cy="338.7" r="1.6"/><circle cx="350.8" cy="338.7" r="1.6"/><circle cx="364.3" cy="335.3" r="1.6"/><circle cx="359.0" cy="335.8" r="1.6"/><circle cx="361.9" cy="334.8" r="1.6"/><circle cx="358.5" cy="339.7" r="1.6"/><circle cx="361.0" cy="340.1" r="1.6"/><circle cx="359.5" cy="342.1" r="1.6"/><circle cx="361.9" cy="341.1" r="1.6"/><circle cx="357.6" cy="341.1" r="1.6"/><circle cx="352.3" cy="342.6" r="1.6"/><circle cx="354.7" cy="342.1" r="1.6"/><circle cx="353.7" cy="343.0" r="1.6"/><circle cx="370.1" cy="335.8" r="1.6"/><circle cx="368.7" cy="338.2" r="1.6"/><circle cx="373.5" cy="333.4" r="1.6"/><circle cx="365.8" cy="343.0" r="1.6"/><circle cx="368.2" cy="343.0" r="1.6"/><circle cx="370.6" cy="344.0" r="1.6"/><circle cx="372.6" cy="342.6" r="1.6"/><circle cx="355.6" cy="346.4" r="1.6"/><circle cx="357.1" cy="346.0" r="1.6"/><circle cx="353.7" cy="348.4" r="1.6"/><circle cx="352.7" cy="350.3" r="1.6"/><circle cx="356.6" cy="351.0" r="1.6"/><circle cx="347.9" cy="348.7" r="1.6"/><circle cx="366.1" cy="349.8" r="1.6"/><circle cx="374.0" cy="347.9" r="1.6"/><circle cx="375.9" cy="353.7" r="1.6"/><circle cx="376.9" cy="345.9" r="1.6"/><circle cx="378.8" cy="343.0" r="1.6"/><circle cx="381.8" cy="343.8" r="1.6"/><circle cx="378.4" cy="347.4" r="1.6"/><circle cx="379.8" cy="348.4" r="1.6"/><circle cx="382.2" cy="346.9" r="1.6"/><circle cx="378.8" cy="349.8" r="1.6"/><circle cx="381.3" cy="349.3" r="1.6"/><circle cx="383.2" cy="357.6" r="1.6"/><circle cx="385.6" cy="358.0" r="1.6"/><circle cx="386.1" cy="362.4" r="1.6"/><circle cx="392.4" cy="359.5" r="1.6"/><circle cx="393.4" cy="363.8" r="1.6"/><circle cx="384.7" cy="361.9" r="1.6"/><circle cx="385.2" cy="364.8" r="1.6"/><circle cx="386.6" cy="362.9" r="1.6"/><circle cx="393.9" cy="364.8" r="1.6"/><circle cx="394.8" cy="365.8" r="1.6"/><circle cx="395.8" cy="367.2" r="1.6"/><circle cx="401.1" cy="368.2" r="1.6"/><circle cx="400.6" cy="370.6" r="1.6"/><circle cx="406.9" cy="368.7" r="1.6"/><circle cx="408.4" cy="371.1" r="1.6"/><circle cx="407.4" cy="372.1" r="1.6"/><circle cx="396.8" cy="370.6" r="1.6"/><circle cx="398.2" cy="372.1" r="1.6"/><circle cx="397.7" cy="374.0" r="1.6"/><circle cx="399.2" cy="375.0" r="1.6"/><circle cx="398.7" cy="377.4" r="1.6"/><circle cx="405.0" cy="374.0" r="1.6"/><circle cx="404.0" cy="375.9" r="1.6"/><circle cx="402.6" cy="377.9" r="1.6"/><circle cx="404.0" cy="379.3" r="1.6"/><circle cx="403.0" cy="380.8" r="1.6"/><circle cx="387.6" cy="374.0" r="1.6"/><circle cx="391.6" cy="376.4" r="1.6"/><circle cx="388.5" cy="381.6" r="1.6"/><circle cx="390.5" cy="386.6" r="1.6"/><circle cx="389.5" cy="388.5" r="1.6"/><circle cx="402.6" cy="384.7" r="1.6"/><circle cx="413.2" cy="383.2" r="1.6"/><circle cx="414.7" cy="384.7" r="1.6"/><circle cx="417.6" cy="381.8" r="1.6"/><circle cx="419.5" cy="384.7" r="1.6"/><circle cx="417.1" cy="385.6" r="1.6"/><circle cx="409.3" cy="388.0" r="1.6"/><circle cx="411.3" cy="390.5" r="1.6"/><circle cx="413.7" cy="387.6" r="1.6"/><circle cx="415.6" cy="389.5" r="1.6"/><circle cx="417.6" cy="389.0" r="1.6"/><circle cx="420.0" cy="389.0" r="1.6"/><circle cx="415.6" cy="392.4" r="1.6"/><circle cx="418.0" cy="391.4" r="1.6"/><circle cx="420.5" cy="388.5" r="1.6"/><circle cx="410.8" cy="391.0" r="1.6"/><circle cx="414.7" cy="392.9" r="1.6"/><circle cx="421.0" cy="396.8" r="1.6"/><circle cx="422.9" cy="399.7" r="1.6"/><circle cx="424.3" cy="405.0" r="1.6"/><circle cx="423.9" cy="406.0" r="1.6"/><circle cx="427.2" cy="401.6" r="1.6"/><circle cx="428.7" cy="403.0" r="1.6"/><circle cx="430.1" cy="404.0" r="1.6"/><circle cx="433.0" cy="401.1" r="1.6"/><circle cx="430.6" cy="406.9" r="1.6"/><circle cx="429.7" cy="407.4" r="1.6"/><circle cx="434.5" cy="408.4" r="1.6"/><circle cx="436.0" cy="409.3" r="1.6"/><circle cx="437.9" cy="407.9" r="1.6"/><circle cx="438.8" cy="409.8" r="1.6"/><circle cx="431.6" cy="411.3" r="1.6"/><circle cx="434.0" cy="412.2" r="1.6"/><circle cx="436.0" cy="411.8" r="1.6"/><circle cx="440.3" cy="415.6" r="1.6"/><circle cx="439.8" cy="417.1" r="1.6"/><circle cx="442.7" cy="417.1" r="1.6"/><circle cx="449.5" cy="412.7" r="1.6"/><circle cx="452.9" cy="413.7" r="1.6"/><circle cx="453.4" cy="417.6" r="1.6"/><circle cx="451.9" cy="416.6" r="1.6"/><circle cx="445.6" cy="423.4" r="1.6"/><circle cx="447.6" cy="422.9" r="1.6"/><circle cx="449.0" cy="412.6" r="1.6"/><circle cx="451.0" cy="416.9" r="1.6"/><circle cx="454.3" cy="417.4" r="1.6"/><circle cx="455.8" cy="417.9" r="1.6"/><circle cx="444.2" cy="424.7" r="1.6"/><circle cx="446.1" cy="423.7" r="1.6"/><circle cx="448.1" cy="422.7" r="1.6"/><circle cx="445.6" cy="426.6" r="1.6"/><circle cx="452.9" cy="426.1" r="1.6"/><circle cx="451.9" cy="429.0" r="1.6"/><circle cx="457.2" cy="425.6" r="1.6"/><circle cx="459.7" cy="423.2" r="1.6"/><circle cx="458.7" cy="426.6" r="1.6"/><circle cx="457.2" cy="431.4" r="1.6"/><circle cx="461.6" cy="427.1" r="1.6"/><circle cx="464.0" cy="429.0" r="1.6"/><circle cx="462.1" cy="432.4" r="1.6"/><circle cx="464.0" cy="433.8" r="1.6"/><circle cx="466.0" cy="435.3" r="1.6"/><circle cx="473.2" cy="431.0" r="1.6"/><circle cx="472.2" cy="433.4" r="1.6"/><circle cx="476.6" cy="434.3" r="1.6"/><circle cx="468.4" cy="439.2" r="1.6"/><circle cx="468.8" cy="441.6" r="1.6"/><circle cx="470.8" cy="438.2" r="1.6"/><circle cx="473.7" cy="444.0" r="1.6"/><circle cx="474.7" cy="446.4" r="1.6"/><circle cx="476.6" cy="442.6" r="1.6"/><circle cx="478.5" cy="445.5" r="1.6"/><circle cx="480.0" cy="447.4" r="1.6"/><path d="M316.00 301.40L489.80 453.70" stroke="#000" stroke-width="2.0"/><rect x="437.40" y="280.80" width="75" height="31.8" fill="#fff" stroke="#444" stroke-width="1.1"/><circle cx="459.40" cy="289.70" r="1.5"/><path d="M441.30 304.10H477.80" stroke="#000" stroke-width="2.2"/><text x="480.60" y="294.00" font-size="10">No. 4</text><text x="480.60" y="308.70" font-size="10">Fitting</text></g>
</g></svg></body></html>
